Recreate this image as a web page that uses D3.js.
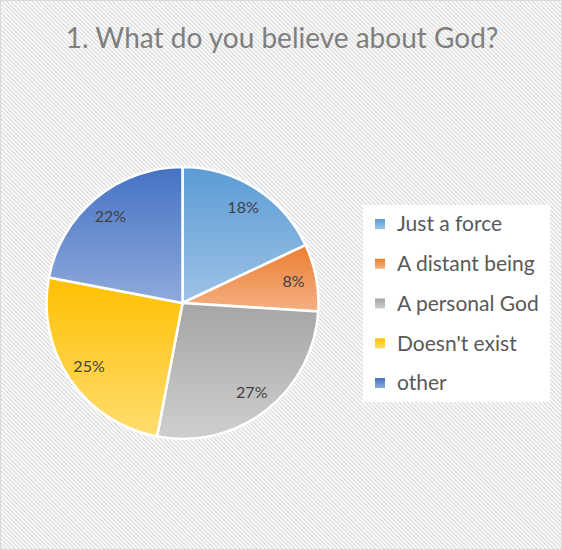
<!DOCTYPE html>
<html>
<head>
<meta charset="utf-8">
<script src="https://cdn.jsdelivr.net/npm/d3@7/dist/d3.min.js"></script>
<style>
  html, body { margin: 0; padding: 0; background: #fff; }
  svg { display: block; }
  text { font-family: Lato, "Open Sans", sans-serif; }
</style>
</head>
<body>
<svg id="chart" width="562" height="550"></svg>
<script>
const title = "1. What do you believe about God?";
const categories = ["Just a force", "A distant being", "A personal God", "Doesn't exist", "other"];
const values = [18, 8, 27, 25, 22];
const topColors = ["#5B9BD5", "#ED7D31", "#A5A5A5", "#FFC000", "#4472C4"];
const bottomColors = ["#9DC3E6", "#F4B183", "#CFCFCF", "#FFDD70", "#8FAADC"];

const W = 562, H = 550;
const svg = d3.select("#chart");
const defs = svg.append("defs");

// hatch background
const pat = defs.append("pattern")
  .attr("id", "hatch").attr("patternUnits", "userSpaceOnUse")
  .attr("width", 3).attr("height", 3)
  .attr("patternTransform", "rotate(-45)");
pat.append("rect").attr("width", 3).attr("height", 3).attr("fill", "#fff");
pat.append("rect").attr("x", 0).attr("width", 1.3).attr("height", 3).attr("fill", "#d9d9d9");

svg.append("rect").attr("x", 0.5).attr("y", 0.5).attr("width", W - 1).attr("height", H - 1)
  .attr("fill", "url(#hatch)").attr("stroke", "#d9d9d9").attr("stroke-width", 1);

categories.forEach((c, i) => {
  const g = defs.append("linearGradient").attr("id", "grad" + i)
    .attr("x1", 0).attr("y1", 0).attr("x2", 0).attr("y2", 1);
  g.append("stop").attr("offset", "0%").attr("stop-color", topColors[i]);
  g.append("stop").attr("offset", "100%").attr("stop-color", bottomColors[i]);
});

svg.append("text").attr("x", 282).attr("y", 48).attr("text-anchor", "middle")
  .attr("font-size", 28).attr("fill", "#7F7F7F").text(title);

const cx = 182.5, cy = 303, r = 136;
const pie = d3.pie().sort(null).value(d => d)(values);
const arc = d3.arc().innerRadius(0).outerRadius(r);
const labelArc = d3.arc().innerRadius(113).outerRadius(113);
const total = d3.sum(values);

const gp = svg.append("g").attr("transform", `translate(${cx},${cy})`);
gp.selectAll("path.slice").data(pie).join("path")
  .attr("class", "slice")
  .attr("d", arc)
  .attr("fill", (d, i) => `url(#grad${i})`)
  .attr("stroke", "#fff").attr("stroke-width", 2.5).attr("stroke-linejoin", "round");

gp.selectAll("text.lbl").data(pie).join("text")
  .attr("class", "lbl")
  .attr("transform", d => `translate(${labelArc.centroid(d)})`)
  .attr("text-anchor", "middle").attr("dy", "0.35em")
  .attr("font-size", 16).attr("fill", "#404040")
  .text(d => Math.round(d.data / total * 100) + "%");

// legend
const lg = svg.append("g");
lg.append("rect").attr("x", 363).attr("y", 205).attr("width", 187).attr("height", 197).attr("fill", "#fff");
const ly = d3.scalePoint().domain(categories).range([224, 383]);
const items = lg.selectAll("g.item").data(categories).join("g").attr("class", "item")
  .attr("transform", d => `translate(0,${ly(d)})`);
items.append("rect").attr("x", 375).attr("y", -5).attr("width", 10).attr("height", 10)
  .attr("fill", (d, i) => `url(#grad${i})`);
items.append("text").attr("x", 397).attr("dy", "0.35em").attr("font-size", 21)
  .attr("fill", "#595959").text(d => d);
</script>
</body>
</html>
